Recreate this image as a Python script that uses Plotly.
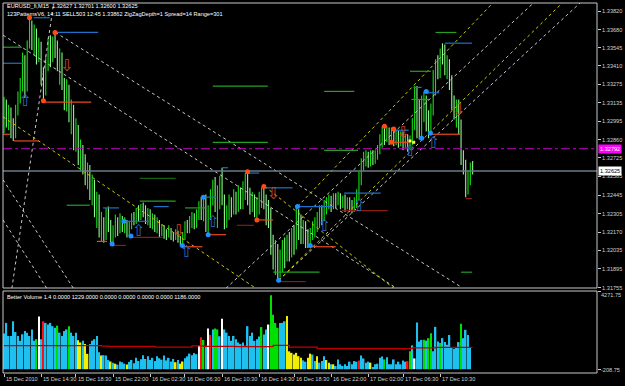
import plotly.graph_objects as go

# ---------------- data (EURUSD M15, bar index 0..202) ----------------
opens = [1.3293,1.3308,1.3301,1.3307,1.3295,1.3290,1.3308,1.3316,1.3327,1.3346,
1.3325,1.3357,1.3372,1.3360,1.3368,1.3349,1.3357,1.3334,1.3323,1.3346,
1.3357,1.3347,1.3360,1.3357,1.3344,1.3349,1.3329,1.3319,1.3325,1.3304,
1.3308,1.3286,1.3293,1.3275,1.3278,1.3267,1.3260,1.3263,1.3245,1.3252,
1.3234,1.3241,1.3219,1.3222,1.3215,1.3230,1.3222,1.3213,1.3217,1.3225,
1.3219,1.3226,1.3222,1.3225,1.3219,1.3222,1.3228,1.3226,1.3232,1.3229,
1.3235,1.3232,1.3228,1.3231,1.3225,1.3228,1.3222,1.3225,1.3217,1.3220,
1.3216,1.3214,1.3219,1.3214,1.3213,1.3216,1.3211,1.3210,1.3214,1.3222,
1.3219,1.3225,1.3228,1.3223,1.3230,1.3237,1.3230,1.3241,1.3222,1.3230,
1.3245,1.3252,1.3241,1.3249,1.3256,1.3241,1.3225,1.3230,1.3237,1.3234,
1.3241,1.3237,1.3245,1.3241,1.3249,1.3252,1.3245,1.3237,1.3241,1.3234,
1.3237,1.3243,1.3247,1.3240,1.3237,1.3232,1.3208,1.3195,1.3204,1.3189,
1.3195,1.3205,1.3198,1.3210,1.3204,1.3215,1.3208,1.3228,1.3222,1.3217,
1.3220,1.3213,1.3210,1.3214,1.3219,1.3220,1.3226,1.3232,1.3228,1.3235,
1.3237,1.3241,1.3237,1.3243,1.3240,1.3243,1.3238,1.3241,1.3237,1.3240,
1.3237,1.3234,1.3238,1.3245,1.3256,1.3267,1.3271,1.3272,1.3269,1.3275,
1.3271,1.3274,1.3278,1.3286,1.3292,1.3287,1.3293,1.3289,1.3290,1.3287,
1.3290,1.3286,1.3289,1.3284,1.3287,1.3282,1.3286,1.3297,1.3323,1.3308,
1.3293,1.3304,1.3316,1.3301,1.3293,1.3308,1.3331,1.3342,1.3338,1.3351,
1.3347,1.3338,1.3342,1.3331,1.3316,1.3307,1.3312,1.3297,1.3275,1.3267,
1.3247,1.3258,1.32627]
highs = [1.3318,1.3316,1.3312,1.3310,1.3302,1.3312,1.3322,1.3332,1.3351,1.3349,
1.3360,1.3377,1.3375,1.3372,1.3369,1.3362,1.3359,1.3340,1.3349,1.3362,
1.3364,1.3363,1.3366,1.3360,1.3354,1.3351,1.3332,1.3331,1.3327,1.3316,
1.3312,1.3302,1.3297,1.3286,1.3282,1.3275,1.3269,1.3267,1.3260,1.3256,
1.3247,1.3245,1.3232,1.3228,1.3235,1.3236,1.3226,1.3222,1.3230,1.3228,
1.3231,1.3229,1.3228,1.3226,1.3225,1.3231,1.3232,1.3235,1.3237,1.3238,
1.3239,1.3237,1.3235,1.3234,1.3231,1.3230,1.3228,1.3226,1.3223,1.3222,
1.3219,1.3222,1.3220,1.3217,1.3219,1.3218,1.3214,1.3217,1.3225,1.3226,
1.3229,1.3232,1.3231,1.3234,1.3240,1.3243,1.3244,1.3245,1.3237,1.3249,
1.3256,1.3258,1.3252,1.3259,1.3265,1.3245,1.3237,1.3245,1.3243,1.3249,
1.3247,1.3252,1.3250,1.3255,1.3261,1.3262,1.3250,1.3247,1.3245,1.3243,
1.3247,1.3250,1.3252,1.3245,1.3241,1.3235,1.3215,1.3211,1.3208,1.3204,
1.3211,1.3213,1.3215,1.3217,1.3220,1.3222,1.3236,1.3234,1.3230,1.3226,
1.3225,1.3219,1.3220,1.3225,1.3228,1.3232,1.3237,1.3237,1.3241,1.3243,
1.3245,1.3244,1.3246,1.3246,1.3247,1.3246,1.3244,1.3245,1.3243,1.3243,
1.3241,1.3243,1.3249,1.3262,1.3272,1.3277,1.3278,1.3277,1.3278,1.3278,
1.3278,1.3282,1.3290,1.3296,1.3296,1.3296,1.3295,1.3295,1.3294,1.3293,
1.3293,1.3292,1.3292,1.3290,1.3290,1.3289,1.3302,1.3326,1.3326,1.3316,
1.3319,1.3322,1.3319,1.3308,1.3313,1.3338,1.3346,1.3349,1.3354,1.3358,
1.3357,1.3349,1.3346,1.3334,1.3319,1.3316,1.3316,1.3301,1.3278,1.3271,
1.3263,1.3269,1.32701]
lows = [1.3291,1.3295,1.3293,1.3287,1.3285,1.3287,1.3304,1.3313,1.3322,1.3317,
1.3322,1.3354,1.3353,1.3349,1.3342,1.3344,1.3327,1.3315,1.3319,1.3337,
1.3340,1.3344,1.3347,1.3337,1.3327,1.3323,1.3308,1.3307,1.3299,1.3290,
1.3278,1.3277,1.3267,1.3263,1.3260,1.3252,1.3249,1.3241,1.3237,1.3228,
1.3220,1.3213,1.3210,1.3209,1.3211,1.3217,1.3208,1.3208,1.3213,1.3214,
1.3216,1.3217,1.3216,1.3213,1.3214,1.3219,1.3222,1.3223,1.3225,1.3226,
1.3228,1.3223,1.3222,1.3220,1.3219,1.3217,1.3216,1.3213,1.3214,1.3212,
1.3211,1.3213,1.3211,1.3210,1.3211,1.3209,1.3207,1.3207,1.3211,1.3216,
1.3216,1.3220,1.3219,1.3220,1.3226,1.3226,1.3225,1.3217,1.3215,1.3226,
1.3237,1.3232,1.3220,1.3234,1.3237,1.3219,1.3220,1.3226,1.3228,1.3230,
1.3230,1.3232,1.3234,1.3234,1.3241,1.3237,1.3230,1.3232,1.3228,1.3225,
1.3230,1.3235,1.3234,1.3222,1.3220,1.3200,1.3189,1.3185,1.3181,1.3183,
1.3187,1.3190,1.3195,1.3195,1.3198,1.3200,1.3204,1.3211,1.3208,1.3208,
1.3205,1.3205,1.3207,1.3211,1.3213,1.3217,1.3220,1.3222,1.3225,1.3230,
1.3234,1.3232,1.3234,1.3235,1.3237,1.3234,1.3235,1.3232,1.3234,1.3232,
1.3231,1.3232,1.3235,1.3241,1.3252,1.3263,1.3266,1.3265,1.3266,1.3267,
1.3268,1.3271,1.3275,1.3280,1.3282,1.3284,1.3282,1.3284,1.3281,1.3282,
1.3280,1.3281,1.3278,1.3280,1.3277,1.3278,1.3282,1.3293,1.3287,1.3286,
1.3287,1.3299,1.3292,1.3287,1.3289,1.3304,1.3319,1.3331,1.3332,1.3342,
1.3334,1.3331,1.3323,1.3308,1.3301,1.3295,1.3290,1.3267,1.3260,1.3243,
1.3245,1.3252,1.32600]
closes = [1.3308,1.3301,1.3307,1.3295,1.3290,1.3308,1.3316,1.3327,1.3346,1.3325,
1.3357,1.3372,1.3360,1.3368,1.3349,1.3357,1.3334,1.3323,1.3346,1.3357,
1.3347,1.3360,1.3357,1.3344,1.3349,1.3329,1.3319,1.3325,1.3304,1.3308,
1.3286,1.3293,1.3275,1.3278,1.3267,1.3260,1.3263,1.3245,1.3252,1.3234,
1.3241,1.3219,1.3222,1.3215,1.3230,1.3222,1.3213,1.3217,1.3225,1.3219,
1.3226,1.3222,1.3225,1.3219,1.3222,1.3228,1.3226,1.3232,1.3229,1.3235,
1.3232,1.3228,1.3231,1.3225,1.3228,1.3222,1.3225,1.3217,1.3220,1.3216,
1.3214,1.3219,1.3214,1.3213,1.3216,1.3211,1.3210,1.3214,1.3222,1.3219,
1.3225,1.3228,1.3223,1.3230,1.3237,1.3230,1.3241,1.3222,1.3230,1.3245,
1.3252,1.3241,1.3249,1.3256,1.3241,1.3225,1.3230,1.3237,1.3234,1.3241,
1.3237,1.3245,1.3241,1.3249,1.3252,1.3245,1.3237,1.3241,1.3234,1.3237,
1.3243,1.3247,1.3240,1.3237,1.3232,1.3208,1.3195,1.3204,1.3189,1.3195,
1.3205,1.3198,1.3210,1.3204,1.3215,1.3208,1.3228,1.3222,1.3217,1.3220,
1.3213,1.3210,1.3214,1.3219,1.3220,1.3226,1.3232,1.3228,1.3235,1.3237,
1.3241,1.3237,1.3243,1.3240,1.3243,1.3238,1.3241,1.3237,1.3240,1.3237,
1.3234,1.3238,1.3245,1.3256,1.3267,1.3271,1.3272,1.3269,1.3275,1.3271,
1.3274,1.3278,1.3286,1.3292,1.3287,1.3293,1.3289,1.3290,1.3287,1.3290,
1.3286,1.3289,1.3284,1.3287,1.3282,1.3286,1.3297,1.3323,1.3308,1.3293,
1.3304,1.3316,1.3301,1.3293,1.3308,1.3331,1.3342,1.3338,1.3351,1.3347,
1.3338,1.3342,1.3331,1.3316,1.3307,1.3312,1.3297,1.3275,1.3267,1.3247,
1.3258,1.3265,1.32625]

volumes = [1950,2530,1816,1816,2617,2030,1816,1549,1906,2083,
1997,1816,2173,1549,1639,2883,1639,2617,2530,2440,
2530,2350,2262,2380,1997,1816,2083,2173,2350,1997,
1816,1997,1585,1460,1549,1372,838,1372,1549,1639,
1816,928,748,765,748,500,420,350,300,250,
420,380,300,250,400,500,330,625,450,540,
765,560,700,500,620,450,700,600,520,750,
480,620,420,560,380,500,300,420,600,700,
850,760,880,820,1282,1745,1600,1282,2226,1870,
2173,2226,2173,1800,2760,2173,1997,1816,1549,1816,
1639,1460,1372,1460,1282,2350,1816,1997,1549,1639,
1780,2300,1900,2173,2440,4040,2975,2530,2262,2530,
2530,2617,2900,977,892,801,892,710,625,480,
411,625,850,800,443,710,358,443,710,500,
358,267,267,176,534,267,176,267,176,411,
267,443,411,481,748,587,358,411,358,123,
267,300,625,690,534,657,267,267,534,267,
411,267,481,411,443,977,1298,587,2547,1511,
1602,1602,1560,1693,1960,977,2312,1511,1426,1700,
1479,1335,1869,1159,1121,1159,1479,2480,1693,2150,
1869,1159,1229]
# B=blue, Y=yellow, G=green, R=red, W=white (Better Volume colour classes)
vol_classes = ("BBBBBBBBBBBBBBGWBRBBBBBGBBBBGBBBYYBYYBBBBBYBBBYBYBBBBYBBBBBB"
               "BBBBBBBBBBBBBBYBYYBBBBBBWRGBWRBGGBWBBBBBBBBBBBBBBBBGBBWGGGGB"
               "BBYYYYYYYBBYYBBYBBBYYBYBBBBBBBBBBRBBBBYBBBBBGBBBBBBBBBRGBWBB"
               "BGBGGBBBGBBBBBBBBGBBBB")

ma_bars = [0, 42, 45, 65, 81, 86, 100, 116, 123, 135, 176, 186, 202]
ma_vals = [1285, 1265, 1245, 1210, 1275, 1245, 1235, 1300, 1200, 1120, 1165, 1186, 1186]

price_ticks = [1.33820, 1.33680, 1.33545, 1.33410, 1.33275, 1.33135, 1.32995, 1.32860,
               1.32725, 1.32585, 1.32445, 1.32305, 1.32170, 1.32035, 1.31895, 1.31755]
time_tick_bars = [0, 16, 31, 47, 63, 78, 94, 110, 125, 141, 157, 172, 188]
time_labels = ["15 Dec 2010", "15 Dec 14:30", "15 Dec 18:30", "15 Dec 22:00", "16 Dec 02:30",
               "16 Dec 06:30", "16 Dec 10:30", "16 Dec 14:30", "16 Dec 18:30", "16 Dec 22:00",
               "17 Dec 02:00", "17 Dec 06:30", "17 Dec 10:30"]

# dotted trend / channel lines: (bar0, price0, bar1, price1, colour key)
trend_lines = [
    (-0.4, 1.3364, 169.2, 1.3175, "W"),
    (22.2, 1.3366, 197.0, 1.3176, "W"),
    (3.4, 1.3175, 21.4, 1.3388, "W"),
    (-0.4, 1.3256, 29.9, 1.3175, "W"),
    (-0.4, 1.3226, 18.4, 1.3175, "W"),
    (-0.4, 1.3303, 108.5, 1.3175, "Y"),
    (112.4, 1.3251, 168.0, 1.3175, "Y"),
    (126.5, 1.3236, 210.7, 1.3388, "Y"),
    (118.4, 1.3181, 240.6, 1.3388, "Y"),
    (95.7, 1.3175, 228.2, 1.3388, "W"),
    (118.4, 1.3181, 248.3, 1.3388, "W"),
]

# horizontal level segments: (bar0, bar1, price, colour key)
levels = [
    (12.8, 19.7, 1.3377, "B"), (22.2, 40.6, 1.3366, "B"), (-0.4, 8.5, 1.3343, "B"),
    (-0.4, 7.7, 1.3355, "G"), (17, 37.6, 1.3314, "O"), (-0.4, 2.6, 1.3290, "O"),
    (4.3, 15, 1.3285, "O"), (90, 113.7, 1.3326, "G"), (90, 113.7, 1.3284, "G"),
    (138, 151, 1.3322, "G"), (58.5, 74, 1.3257, "D"), (58.5, 74, 1.3240, "G"),
    (27, 37, 1.3237, "G"), (42.7, 49.6, 1.3235, "B"), (40, 44.4, 1.3210, "O"),
    (47, 52.6, 1.3207, "R"), (51.7, 62.4, 1.3225, "B"), (64.5, 71, 1.3236, "B"),
    (54.7, 68.4, 1.3213, "R"), (77, 85.5, 1.3206, "O"), (78, 86.8, 1.3235, "G"),
    (86, 91.5, 1.3243, "B"), (94, 96.6, 1.3265, "B"), (88, 95.7, 1.3215, "O"),
    (100.4, 107.7, 1.3222, "R"), (104.7, 110, 1.3261, "B"), (112.4, 124.4, 1.3250, "B"),
    (109.4, 116, 1.3226, "O"), (118.4, 130, 1.3180, "R"), (116, 136, 1.3187, "G"),
    (126.5, 141.5, 1.3236, "B"), (132, 143, 1.3206, "O"), (146.6, 162.4, 1.3246, "B"),
    (145.7, 165.4, 1.3233, "R"), (138, 152.6, 1.3278, "G"), (167.5, 174.4, 1.3284, "O"),
    (168.4, 174.4, 1.3293, "B"), (175, 184, 1.3337, "G"), (186, 195, 1.3366, "G"),
    (190, 201.7, 1.3358, "B"), (176.5, 180, 1.3325, "B"), (182, 187.6, 1.3321, "B"),
    (175.6, 183.3, 1.3316, "G"), (183.8, 196.6, 1.3290, "O"), (197, 201.7, 1.3187, "G"),
    (199, 201.7, 1.3242, "R"),
]

swing_high_bars = [11, 22, 17, 105, 112, 109, 164, 168, 167]
swing_high_prices = [1.3377, 1.3366, 1.3315, 1.3262, 1.3251, 1.3226, 1.3296, 1.3294, 1.3284]
swing_low_bars = [46.6, 51.7, 54.7, 76.9, 85.9, 88, 118.4, 126.5, 132, 182, 180, 183.8]
swing_low_prices = [1.3208, 1.3225, 1.3214, 1.3207, 1.3243, 1.3215, 1.3181, 1.3236, 1.3207,
                    1.3322, 1.3287, 1.3291]

buy_arrow_bars = [9, 58, 78.5, 90, 138, 153, 175, 185]
buy_arrow_prices = [1.3314, 1.3217, 1.3201, 1.3224, 1.3221, 1.3236, 1.3277, 1.3283]
sell_arrow_bars = [27, 75.2, 116, 172, 196]
sell_arrow_prices = [1.3340, 1.3217, 1.3245, 1.3290, 1.3307]

bid_price = 1.32625
alert_price = 1.32792

# ---------------- figure ----------------
X0, X1 = -0.43, 255.6
FONT = "Liberation Sans"
FS = 5.6
LBL = "#d0d0d0"

fig = go.Figure()

# dotted lines
tcol = {"W": "#c8c8c8", "Y": "#cccc00"}
for key in ("W", "Y"):
    xs, ys = [], []
    for (a, pa, b, pb, k) in trend_lines:
        if k == key:
            xs += [a, b, None]
            ys += [pa, pb, None]
    fig.add_trace(go.Scatter(x=xs, y=ys, mode="lines",
                             line=dict(color=tcol[key], width=1, dash="dot"),
                             hoverinfo="skip", yaxis="y"))

# alert + bid lines
fig.add_trace(go.Scatter(x=[X0, X1], y=[alert_price, alert_price], mode="lines",
                         line=dict(color="#c000c0", width=1, dash="dashdot"), yaxis="y"))
fig.add_trace(go.Scatter(x=[X0, X1], y=[bid_price, bid_price], mode="lines",
                         line=dict(color="#6a7b88", width=1.5), yaxis="y"))

# level segments
lcol = {"B": "#1e70c8", "G": "#22a022", "O": "#e84a1e", "R": "#8a1c10", "D": "#166016"}
for key, col in lcol.items():
    xs, ys = [], []
    for (a, b, p, k) in levels:
        if k == key:
            xs += [a, b, None]
            ys += [p, p, None]
    fig.add_trace(go.Scatter(x=xs, y=ys, mode="lines", line=dict(color=col, width=1.2),
                             hoverinfo="skip", yaxis="y"))

# price bars (thin high-low lines, colour by direction)
idx = list(range(len(closes)))
fig.add_trace(go.Ohlc(
    x=idx, open=opens, high=highs, low=lows, close=closes,
    increasing=dict(line=dict(color="#10e010", width=1.1)),
    decreasing=dict(line=dict(color="#90f890", width=1.1)),
    tickwidth=0.15, yaxis="y", hoverinfo="skip"))

# swing dots
fig.add_trace(go.Scatter(x=swing_high_bars, y=swing_high_prices, mode="markers",
                         marker=dict(color="#ff4a14", size=5), yaxis="y"))
fig.add_trace(go.Scatter(x=swing_low_bars, y=swing_low_prices, mode="markers",
                         marker=dict(color="#1e90ff", size=5), yaxis="y"))
fig.add_trace(go.Scatter(x=[175, 176.6], y=[1.3285, 1.3284], mode="markers",
                         marker=dict(color="#ffff40", size=3, symbol="square"), yaxis="y"))

# hollow arrows
fig.add_trace(go.Scatter(x=buy_arrow_bars, y=buy_arrow_prices, mode="text", text=["⇧"] * len(buy_arrow_bars),
                         textfont=dict(family="DejaVu Sans", size=16, color="#2a6ac8"), yaxis="y"))
fig.add_trace(go.Scatter(x=sell_arrow_bars, y=sell_arrow_prices, mode="text", text=["⇩"] * len(sell_arrow_bars),
                         textfont=dict(family="DejaVu Sans", size=16, color="#d84020"), yaxis="y"))

# volume
vmap = {"B": "#1ec0f0", "Y": "#f0f000", "G": "#00e000", "R": "#ff1010", "W": "#ffffff"}
fig.add_trace(go.Bar(x=idx, y=volumes, marker=dict(color=[vmap[c] for c in vol_classes], line=dict(width=0)),
                     width=0.68, yaxis="y2", hoverinfo="skip"))
fig.add_trace(go.Scatter(x=ma_bars, y=ma_vals, mode="lines", line=dict(color="#c00000", width=1.3, shape="hv"),
                         yaxis="y2", hoverinfo="skip"))

MAIN_BOT = (373 - 288) / 370
VOL_TOP = (373 - 291) / 370

fig.update_layout(
    width=625, height=386,
    margin=dict(l=3, r=23, t=3, b=13),
    paper_bgcolor="#000000", plot_bgcolor="#000000",
    showlegend=False, hovermode=False,
    font=dict(family=FONT, size=FS, color=LBL),
    xaxis=dict(range=[X0, X1], anchor="y2", showgrid=False, zeroline=False, showline=False,
               rangeslider=dict(visible=False), tickvals=time_tick_bars, ticks="outside",
               ticklen=3, tickcolor="#c8c8c8", showticklabels=False),
    yaxis=dict(domain=[MAIN_BOT, 1], range=[1.31752, 1.33880], side="right", anchor="x",
               showgrid=False, zeroline=False, showline=False,
               tickvals=price_ticks, ticktext=["%.5f" % p for p in price_ticks],
               ticks="outside", ticklen=3, tickcolor="#c8c8c8",
               tickfont=dict(family=FONT, size=FS, color=LBL)),
    yaxis2=dict(domain=[0, VOL_TOP], range=[-208.75, 4271.75], side="right", anchor="x",
                showgrid=False, zeroline=False, showline=False, showticklabels=False,
                tickvals=[4271.75, 0], ticks="outside", ticklen=3, tickcolor="#c8c8c8"),
)

shapes = [
    dict(type="rect", xref="paper", yref="paper", x0=0, x1=1, y0=MAIN_BOT, y1=1,
         line=dict(color="#c8c8c8", width=1)),
    dict(type="rect", xref="paper", yref="paper", x0=0, x1=1, y0=0, y1=VOL_TOP,
         line=dict(color="#c8c8c8", width=1)),
]
fig.update_layout(shapes=shapes)

ann = []
def py(Y):
    return (373 - Y) / 370

ann.append(dict(xref="paper", yref="paper", x=0.004, y=py(6), xanchor="left", yanchor="middle",
                text="EURUSD_fi,M15  1.32627 1.32701 1.32600 1.32625", showarrow=False,
                font=dict(family=FONT, size=FS, color="#ffffff")))
ann.append(dict(xref="paper", yref="paper", x=0.004, y=py(13.5), xanchor="left", yanchor="middle",
                text="123PatternsV6, 14:11 SELL503 12:45 1.33862 ZigZagDepth=1 Spread=14 Range=301",
                showarrow=False, font=dict(family=FONT, size=FS, color="#ffffff")))
ann.append(dict(xref="paper", yref="paper", x=0.004, y=py(297), xanchor="left", yanchor="middle",
                text="Better Volume 1.4 0.0000 1229.0000 0.0000 0.0000 0.0000 0.0000 1186.0000",
                showarrow=False, font=dict(family=FONT, size=FS, color="#ffffff")))
ann.append(dict(xref="paper", yref="paper", x=1.004, y=py(295), xanchor="left", yanchor="middle",
                text="4271.75", showarrow=False, font=dict(family=FONT, size=FS, color=LBL)))
ann.append(dict(xref="paper", yref="paper", x=1.004, y=py(370), xanchor="left", yanchor="middle",
                text="-208.75", showarrow=False, font=dict(family=FONT, size=FS, color=LBL)))
ann.append(dict(xref="paper", y=alert_price, yref="y", x=1.0015, xanchor="left", yanchor="middle",
                text="1.32792", showarrow=False, bgcolor="#ff00ff", borderpad=1,
                font=dict(family=FONT, size=FS, color="#ffffff")))
ann.append(dict(xref="paper", y=bid_price, yref="y", x=1.0015, xanchor="left", yanchor="middle",
                text="1.32625", showarrow=False, bgcolor="#ffffff", borderpad=1,
                font=dict(family=FONT, size=FS, color="#000000")))
for b, t in zip(time_tick_bars, time_labels):
    ann.append(dict(xref="x", yref="paper", x=b, y=py(379), xanchor="left", yanchor="middle",
                    xshift=0, text=t, showarrow=False, font=dict(family=FONT, size=FS, color=LBL)))
fig.update_layout(annotations=ann)

fig.write_html("out.html")
